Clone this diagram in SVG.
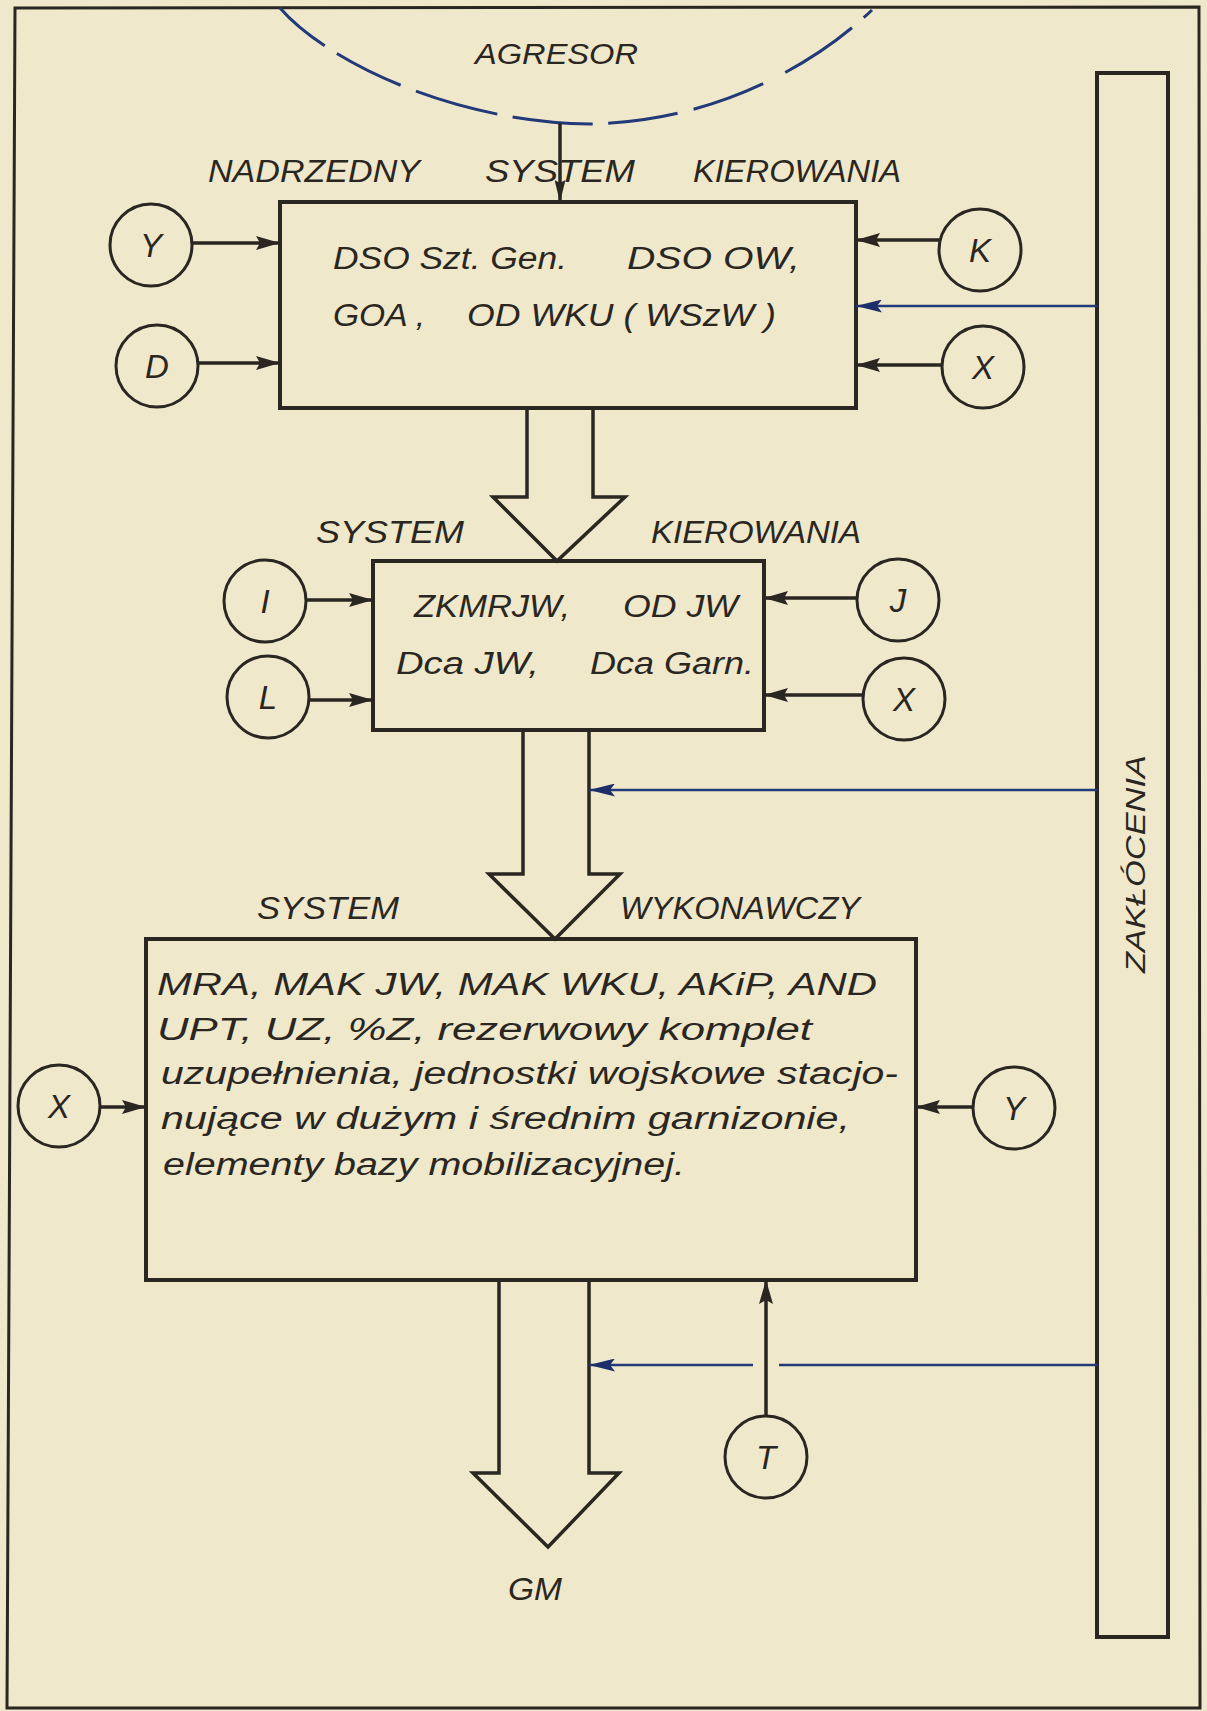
<svg xmlns="http://www.w3.org/2000/svg" width="1207" height="1711" viewBox="0 0 1207 1711">
<style>
text{font-family:"Liberation Sans","DejaVu Sans",sans-serif;font-style:italic;fill:#2a2621;}
.lbl{font-size:31px;}
.box{fill:none;stroke:#2a2621;stroke-width:4;}
.circ{fill:none;stroke:#2a2621;stroke-width:3;}
.ln{fill:none;stroke:#2a2621;stroke-width:3.5;}
.big{fill:none;stroke:#2a2621;stroke-width:3.5;stroke-linejoin:miter;}
.blue{fill:none;stroke:#22397a;stroke-width:2.5;}
.cl{font-size:33px;text-anchor:middle;}
.bt{font-size:31px;}
</style>
<defs>
<marker id="ah" markerUnits="userSpaceOnUse" viewBox="0 0 24 14" refX="24" refY="7" markerWidth="24" markerHeight="14" orient="auto">
<path d="M0,0 L24,7 L0,14 L4,7 Z" fill="#2a2621"/>
</marker>
<marker id="ahb" markerUnits="userSpaceOnUse" viewBox="0 0 26 13" refX="26" refY="6.5" markerWidth="26" markerHeight="13" orient="auto">
<path d="M0,0 L26,6.5 L0,13 L5,6.5 Z" fill="#1d2f68"/>
</marker>
<marker id="ahs" markerUnits="userSpaceOnUse" viewBox="0 0 22 11" refX="22" refY="5.5" markerWidth="22" markerHeight="11" orient="auto">
<path d="M0,0 L22,5.5 L0,11 L3,5.5 Z" fill="#2a2621"/>
</marker>
</defs>
<rect width="1207" height="1711" fill="#efe8cb"/>
<path d="M15,8 L1199,7 L1200,1708 L7,1708 Z" fill="none" stroke="#2a2621" stroke-width="3"/>

<g id="agresor">
<path d="M280,8 C325,60 450,122 590,124 C720,122 820,60 872,10" fill="none" stroke="#22397a" stroke-width="3" pathLength="630" stroke-dasharray="57 14 69 16 82 15 78 15 68 16 72 24 78 15 60"/>
<text x="475" y="64" font-size="29" textLength="163" lengthAdjust="spacingAndGlyphs">AGRESOR</text>
</g>

<g id="labels">
<text class="lbl" x="208" y="182" textLength="212" lengthAdjust="spacingAndGlyphs">NADRZEDNY</text>
<text class="lbl" x="485" y="182" textLength="150" lengthAdjust="spacingAndGlyphs">SYSTEM</text>
<text class="lbl" x="693" y="182" textLength="208" lengthAdjust="spacingAndGlyphs">KIEROWANIA</text>
<text class="lbl" x="316" y="543" textLength="148" lengthAdjust="spacingAndGlyphs">SYSTEM</text>
<text class="lbl" x="651" y="543" textLength="210" lengthAdjust="spacingAndGlyphs">KIEROWANIA</text>
<text class="lbl" x="257" y="919" textLength="142" lengthAdjust="spacingAndGlyphs">SYSTEM</text>
<text class="lbl" x="620" y="919" textLength="240" lengthAdjust="spacingAndGlyphs">WYKONAWCZY</text>
<text class="lbl" x="508" y="1600" textLength="54" lengthAdjust="spacingAndGlyphs">GM</text>
</g>

<g id="box1">
<rect class="box" x="280" y="202" width="576" height="206"/>
<text class="bt" x="333" y="269" textLength="234" lengthAdjust="spacingAndGlyphs">DSO Szt. Gen.</text>
<text class="bt" x="627" y="269" textLength="173" lengthAdjust="spacingAndGlyphs">DSO OW,</text>
<text class="bt" x="333" y="326" textLength="92" lengthAdjust="spacingAndGlyphs">GOA ,</text>
<text class="bt" x="467" y="326" textLength="309" lengthAdjust="spacingAndGlyphs">OD WKU ( WSzW )</text>
</g>

<g id="box2">
<rect class="box" x="373" y="561" width="391" height="169"/>
<text class="bt" x="414" y="617" textLength="156" lengthAdjust="spacingAndGlyphs">ZKMRJW,</text>
<text class="bt" x="623" y="617" textLength="115" lengthAdjust="spacingAndGlyphs">OD JW</text>
<text class="bt" x="396" y="674" textLength="143" lengthAdjust="spacingAndGlyphs">Dca JW,</text>
<text class="bt" x="590" y="674" textLength="164" lengthAdjust="spacingAndGlyphs">Dca Garn.</text>
</g>

<g id="box3">
<rect class="box" x="146" y="939" width="770" height="341"/>
<text class="bt" x="157" y="995" textLength="720" lengthAdjust="spacingAndGlyphs">MRA, MAK JW, MAK  WKU, AKiP, AND</text>
<text class="bt" x="157" y="1040" textLength="655" lengthAdjust="spacingAndGlyphs">UPT, UZ, %Z, rezerwowy komplet</text>
<text class="bt" x="161" y="1084" textLength="737" lengthAdjust="spacingAndGlyphs">uzupełnienia, jednostki wojskowe stacjo-</text>
<text class="bt" x="161" y="1129" textLength="689" lengthAdjust="spacingAndGlyphs">nujące w dużym i średnim garnizonie,</text>
<text class="bt" x="163" y="1175" textLength="522" lengthAdjust="spacingAndGlyphs">elementy bazy mobilizacyjnej.</text>
</g>

<g id="zaklocenia">
<rect class="box" x="1097" y="73" width="71" height="1564"/>
<text x="-864" y="1145" font-size="28" text-anchor="middle" transform="rotate(-90)" textLength="218" lengthAdjust="spacingAndGlyphs">ZAKŁÓCENIA</text>
</g>

<g id="n-Y1"><circle class="circ" cx="151" cy="245" r="41"/><text class="cl" x="151" y="257">Y</text></g>
<g id="n-D"><circle class="circ" cx="157" cy="366" r="41"/><text class="cl" x="157" y="378">D</text></g>
<g id="n-K"><circle class="circ" cx="980" cy="250" r="41"/><text class="cl" x="980" y="262">K</text></g>
<g id="n-X1"><circle class="circ" cx="983" cy="367" r="41"/><text class="cl" x="983" y="379">X</text></g>
<g id="n-I"><circle class="circ" cx="265" cy="601" r="41"/><text class="cl" x="265" y="613">I</text></g>
<g id="n-L"><circle class="circ" cx="268" cy="697" r="41"/><text class="cl" x="268" y="709">L</text></g>
<g id="n-J"><circle class="circ" cx="898" cy="600" r="41"/><text class="cl" x="898" y="612">J</text></g>
<g id="n-X2"><circle class="circ" cx="904" cy="699" r="41"/><text class="cl" x="904" y="711">X</text></g>
<g id="n-X3"><circle class="circ" cx="59" cy="1106" r="41"/><text class="cl" x="59" y="1118">X</text></g>
<g id="n-Y3"><circle class="circ" cx="1014" cy="1108" r="41"/><text class="cl" x="1014" y="1120">Y</text></g>
<g id="n-T"><circle class="circ" cx="766" cy="1457" r="41"/><text class="cl" x="766" y="1469">T</text></g>

<g id="connectors">
<line class="ln" x1="560" y1="123" x2="560" y2="202" marker-end="url(#ahs)" stroke-width="2.5"/>
<line class="ln" x1="192" y1="243" x2="280" y2="243" marker-end="url(#ah)"/>
<line class="ln" x1="198" y1="363" x2="280" y2="363" marker-end="url(#ah)"/>
<line class="ln" x1="939" y1="240" x2="856" y2="240" marker-end="url(#ah)"/>
<line class="ln" x1="942" y1="365" x2="856" y2="365" marker-end="url(#ah)"/>
<line class="blue" x1="1097" y1="306" x2="856" y2="306" marker-end="url(#ahb)"/>
<path class="big" d="M527,408 V497 H493 L557,561 L625,497 H593 V408"/>
<line class="ln" x1="306" y1="600" x2="373" y2="600" marker-end="url(#ah)"/>
<line class="ln" x1="309" y1="700" x2="373" y2="700" marker-end="url(#ah)"/>
<line class="ln" x1="857" y1="598" x2="764" y2="598" marker-end="url(#ah)"/>
<line class="ln" x1="863" y1="695" x2="764" y2="695" marker-end="url(#ah)"/>
<path class="big" d="M523,730 V874 H489 L555,939 L620,874 H589 V730"/>
<line class="blue" x1="1097" y1="790" x2="589" y2="790" marker-end="url(#ahb)"/>
<line class="ln" x1="100" y1="1107" x2="146" y2="1107" marker-end="url(#ah)"/>
<line class="ln" x1="973" y1="1107" x2="916" y2="1107" marker-end="url(#ah)"/>
<path class="big" d="M499,1280 V1473 H473 L548,1547 L619,1473 H589 V1280"/>
<line class="ln" x1="766" y1="1416" x2="766" y2="1280" marker-end="url(#ah)"/>
<line class="blue" x1="1097" y1="1365" x2="779" y2="1365"/>
<line class="blue" x1="753" y1="1365" x2="589" y2="1365" marker-end="url(#ahb)"/>
</g>
</svg>
